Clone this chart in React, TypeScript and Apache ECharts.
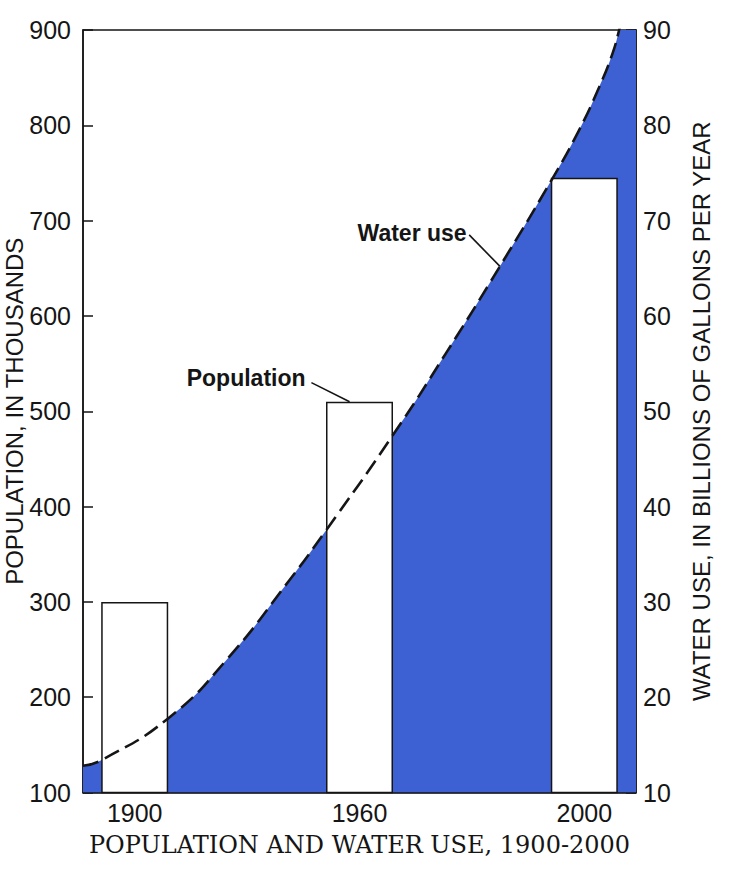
import React, { useEffect, useRef } from "react";
import * as echarts from "echarts";

// Bar positions along the horizontal axis (0 = 1900 bar, 1 = 1960 bar, 2 = 2000 bar)
const yearLabels = ["1900", "1960", "2000"];
const barPositions = [0, 1, 2];
// Population, in thousands
const population = [300, 510, 745];

// Water use curve, in billions of gallons per year, sampled along the same horizontal axis
const waterX = [-0.23, -0.147, 0.15, 0.408, 0.689, 0.845, 1.143, 1.385, 1.622, 1.853, 1.977, 2.066, 2.125, 2.155, 2.23];
const waterUse = [12.8, 13.4, 17.8, 23.9, 32.3, 37.3, 47.3, 56.1, 65.1, 74.2, 79.5, 84.0, 87.5, 90.0, 97.0];

// Axis ranges
const xRange = [-0.23, 2.23];
const popRange = [100, 900];
const popStep = 100;
const waterRange = [10, 90];
const waterStep = 10;

// Annotation callouts (horizontal position, population-axis value)
const calloutText = ["Population", "Water use"];
const calloutTextAt = [[0.76, 535], [1.4765, 687]];
const calloutLineFrom = [[0.786, 530], [1.488, 685]];
const calloutLineTo = [[0.956, 510], [1.625, 652]];

const SANS = '"Liberation Sans", Arial, sans-serif';
const SERIF = '"DejaVu Serif", serif';
const INK = "#151515";
const BLUE = "#3d61d2";

export default function App() {
  const ref = useRef<HTMLDivElement>(null);

  useEffect(() => {
    if (!ref.current) return;
    const chart = echarts.init(ref.current, null, { renderer: "svg" });
    const waterData = waterX.map((x, i) => [x, waterUse[i]]);
    const barData = barPositions.map((x, i) => [x, population[i]]);

    chart.setOption({
      animation: false,
      backgroundColor: "#ffffff",
      grid: {
        left: 83,
        right: 98,
        top: 30,
        bottom: 79.5,
        show: true,
        borderColor: INK,
        borderWidth: 1.5,
        backgroundColor: "transparent",
        outerBoundsMode: "none",
      } as any,
      xAxis: {
        type: "value",
        min: xRange[0],
        max: xRange[1],
        splitLine: { show: false },
        axisLine: { show: true, onZero: false, lineStyle: { color: INK, width: 1.5 } },
        axisTick: { show: false },
        axisLabel: {
          customValues: barPositions,
          formatter: (v: number) => {
            const i = barPositions.indexOf(Math.round(v));
            return i >= 0 ? yearLabels[i] : "";
          },
          color: INK,
          fontFamily: SANS,
          fontSize: 25,
          margin: 8,
        },
        name: "POPULATION AND WATER USE, 1900-2000",
        nameLocation: "middle",
        nameGap: 40,
        nameTextStyle: { color: INK, fontFamily: SERIF, fontSize: 24 },
      } as any,
      yAxis: [
        {
          type: "value",
          position: "left",
          min: popRange[0],
          max: popRange[1],
          interval: popStep,
          splitLine: { show: false },
          axisLine: { show: true, onZero: false, lineStyle: { color: INK, width: 1.5 } },
          axisTick: { show: true, inside: true, length: 10, lineStyle: { color: INK, width: 1.5 } },
          axisLabel: { color: INK, fontFamily: SANS, fontSize: 25, margin: 12 },
          name: "POPULATION, IN THOUSANDS",
          nameLocation: "middle",
          nameGap: 57,
          nameMoveOverlap: false,
          nameTextStyle: { color: INK, fontFamily: SANS, fontSize: 24 },
        },
        {
          type: "value",
          position: "right",
          min: waterRange[0],
          max: waterRange[1],
          interval: waterStep,
          splitLine: { show: false },
          axisLine: { show: true, onZero: false, lineStyle: { color: INK, width: 1.5 } },
          axisTick: { show: true, inside: true, length: 10, lineStyle: { color: INK, width: 1.5 } },
          axisLabel: { color: INK, fontFamily: SANS, fontSize: 25, margin: 7 },
          name: "WATER USE, IN BILLIONS OF GALLONS PER YEAR",
          nameLocation: "middle",
          nameGap: 53,
          nameTextStyle: { color: INK, fontFamily: SANS, fontSize: 24 },
        },
      ] as any,
      series: [
        {
          name: "Water use area",
          type: "line",
          xAxisIndex: 0,
          yAxisIndex: 1,
          data: waterData,
          smooth: 0.5,
          symbol: "none",
          clip: true,
          lineStyle: { width: 0, opacity: 0 },
          areaStyle: { color: BLUE, opacity: 1, origin: "start" },
          z: 1,
          silent: true,
        },
        {
          name: "Population",
          type: "bar",
          xAxisIndex: 0,
          yAxisIndex: 0,
          data: barData,
          barWidth: 67,
          itemStyle: { color: "#ffffff", borderColor: INK, borderWidth: 1.5 },
          z: 3,
          silent: true,
        },
        {
          name: "Water use",
          type: "line",
          xAxisIndex: 0,
          yAxisIndex: 1,
          data: waterData,
          smooth: 0.5,
          symbol: "none",
          clip: true,
          lineStyle: { color: INK, width: 2.6, type: [16, 7] },
          z: 4,
          silent: true,
        },
      ],
    });

    const px = (p: number[]) =>
      chart.convertToPixel({ xAxisIndex: 0, yAxisIndex: 0 } as any, p) as number[];

    const graphics: any[] = [];
    calloutText.forEach((t, i) => {
      const a = px(calloutTextAt[i]);
      const f = px(calloutLineFrom[i]);
      const e = px(calloutLineTo[i]);
      graphics.push({
        type: "text",
        x: a[0],
        y: a[1],
        z: 10,
        style: {
          text: t,
          align: "right",
          verticalAlign: "middle",
          fill: INK,
          fontFamily: SANS,
          fontSize: 23,
          fontWeight: "bold",
        },
      });
      graphics.push({
        type: "line",
        z: 10,
        shape: { x1: f[0], y1: f[1], x2: e[0], y2: e[1] },
        style: { stroke: INK, lineWidth: 1.6 },
      });
    });
    chart.setOption({ graphic: graphics });

    return () => chart.dispose();
  }, []);

  return (
    <div
      ref={ref}
      style={{ position: "fixed", left: 0, top: 0, width: 734, height: 872, background: "#fff" }}
    />
  );
}
